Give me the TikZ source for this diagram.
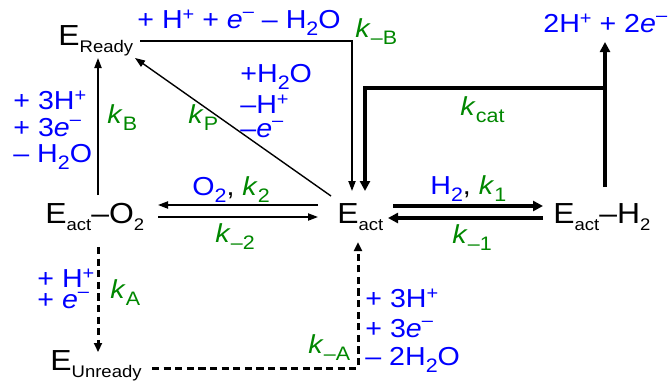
\documentclass[tikz,border=0pt]{standalone}
\usepackage{fontspec}
\setmainfont[FakeStretch=1.1]{Liberation Sans}
\usetikzlibrary{arrows.meta}
\definecolor{kblue}{RGB}{0,0,255}
\definecolor{kgreen}{RGB}{0,135,0}
\newcommand\subm[1]{\raisebox{-0.27em}{\scalebox{0.58}{#1}}}
\newcommand\subl[1]{\raisebox{-0.3em}{\scalebox{0.75}{#1}}}
\newcommand\supl[1]{\raisebox{0.3em}{\scalebox{0.7}{#1}}}
\newcommand\supm{\raisebox{0.42em}{\scalebox{0.7}{–}}}
\newcommand\kk[1]{\textcolor{kgreen}{\textit{k}\subl{#1}}}
\newcommand\ee{\textit{e}}
\begin{document}
\begin{tikzpicture}[x=0.5pt,y=-0.5pt,
 main/.style={anchor=base west,inner sep=0pt,font=\fontsize{14.5}{16}\selectfont},
 lab/.style={anchor=base west,inner sep=0pt,font=\fontsize{13}{15}\selectfont,text=kblue},
 kl/.style={anchor=base west,inner sep=0pt,font=\fontsize{13}{15}\selectfont,text=kgreen},
 thinarr/.style={line width=0.7pt,-{Triangle[length=5pt,width=3.6pt]}},
 thickarr/.style={line width=1.9pt,-{Triangle[length=5pt,width=5pt]}},
 dasharr/.style={line width=1.5pt,dash pattern=on 3.6pt off 2.2pt,-{Triangle[length=4.5pt,width=4pt]}}]
\useasboundingbox (0,0) rectangle (670,381);
% states
\node[main] (EReady) at (58,45) {E\subm{Ready}};
\node[main] (EO2) at (45,223) {E\subm{act}–O\subm{2}};
\node[main] (Eact) at (337,223) {E\subm{act}};
\node[main] (EH2) at (553,223) {E\subm{act}–H\subm{2}};
\node[main] (EUn) at (50,370) {E\subm{Unready}};
% labels
\node[lab] (lTop) at (137,28) {+ H\supl{+} + \ee\supm{} – H\subl{2}O};
\node[kl] (kmB) at (355,37) {\textit{k}\subl{–B}};
\node[lab] (lP1) at (240,82) {+H\subl{2}O};
\node[lab] (lP2) at (240,113) {–H\supl{+}};
\node[lab] (lP3) at (240,137) {–\ee\supm};
\node[kl] (kP) at (188,123) {\textit{k}\subl{P}};
\node[lab] (lB1) at (13,109) {+ 3H\supl{+}};
\node[lab] (lB2) at (13,136) {+ 3\ee\supm};
\node[lab] (lB3) at (13,162) {– H\subl{2}O};
\node[kl] (kB) at (107,123) {\textit{k}\subl{B}};
\node[lab] (lO2) at (192,195) {O\subl{2}\textcolor{black}{,} \kk{2}};
\node[kl] (km2) at (215,242) {\textit{k}\subl{–2}};
\node[lab] (lH2) at (430,194) {H\subl{2}\textcolor{black}{,} \kk{1}};
\node[kl] (km1) at (452,243) {\textit{k}\subl{–1}};
\node[kl] (kcat) at (460,115) {\textit{k}\subl{cat}};
\node[lab] (prod) at (543,32) {2H\supl{+} + 2\ee\supm};
\node[lab] (lA1) at (37,287) {+ H\supl{+}};
\node[lab] (lA2) at (37,308) {+ \ee\supm};
\node[kl] (kA) at (110,298) {\textit{k}\subl{A}};
\node[kl] (kmA) at (308,353) {\textit{k}\subl{–A}};
\node[lab] (lR1) at (365,307) {+ 3H\supl{+}};
\node[lab] (lR2) at (365,337) {+ 3\ee\supm};
\node[lab] (lR3) at (365,365) {– 2H\subl{2}O};
% connectors
\draw[thinarr] ([shift={(53,-28)}]EO2.base west) -- ([shift={(40,13)}]EReady.base west);
\draw[thinarr] ([shift={(-6,-27)}]Eact.base west) -- ([shift={(77,13)}]EReady.base west);
\draw[thinarr] ([shift={(82,-4)}]EReady.base west) -| ([shift={(15,-32)}]Eact.base west);
\draw[thinarr] ([shift={(-19,-18)}]Eact.base west) -- ([shift={(113,-18)}]EO2.base west);
\draw[thinarr] ([shift={(113,-6)}]EO2.base west) -- ([shift={(-19,-6)}]Eact.base west);
\draw[thickarr] ([shift={(56,-17)}]Eact.base west) -- ([shift={(-10,-17)}]EH2.base west);
\draw[thickarr] ([shift={(-10,-5)}]EH2.base west) -- ([shift={(51,-5)}]Eact.base west);
\coordinate (kc) at (605,88);
\draw[thickarr] ([shift={(52,-36)}]EH2.base west) -- ([shift={(62,10)}]prod.base west);
\draw[thickarr] (kc) -| ([shift={(28,-32)}]Eact.base west);
\draw[dasharr] ([shift={(53,24)}]EO2.base west) -- ([shift={(48,-18)}]EUn.base west);
\draw[dasharr] ([shift={(102,-2)}]EUn.base west) -| ([shift={(21,19)}]Eact.base west);
\end{tikzpicture}
\end{document}
